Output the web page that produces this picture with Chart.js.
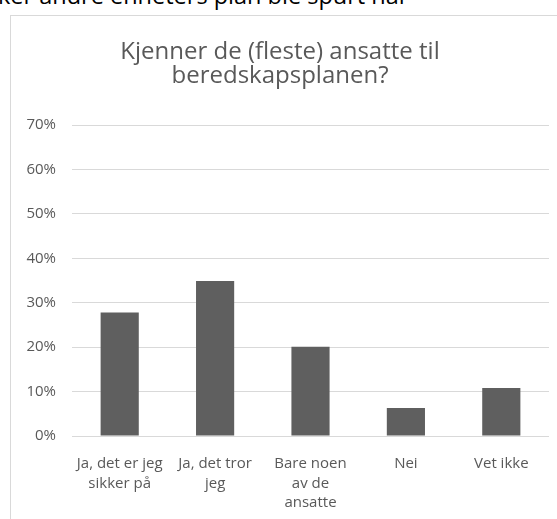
<!DOCTYPE html>
<html>
<head>
<meta charset="utf-8">
<script src="https://cdn.jsdelivr.net/npm/chart.js@4.4.1/dist/chart.umd.min.js"></script>
<style>
  html, body { margin: 0; padding: 0; background: white; overflow: hidden; }
  body { width: 557px; height: 519px; position: relative; font-family: 'Open Sans', sans-serif; }
  #above { position: absolute; left: -2px; top: -16px; font-size: 23.5px; line-height: 23.5px; color: #000; white-space: nowrap; }
  #box { position: absolute; left: 10px; top: 15px; width: 566px; height: 520px;
         border-left: 1px solid #d9d9d9; border-top: 1px solid #d9d9d9; }
  #wrap { position: absolute; left: 0; top: 0; width: 566px; height: 504px; }
</style>
</head>
<body>
<div id="above">ker andre enheters plan ble spurt når</div>
<div id="box">
  <div id="wrap"><canvas id="chart"></canvas></div>
</div>
<script>
const categories = [
  ['Ja, det er jeg', 'sikker på'],
  ['Ja, det tror', 'jeg'],
  ['Bare noen', 'av de', 'ansatte'],
  'Nei',
  'Vet ikke'
]
const shares = [27.8, 34.9, 20.1, 6.3, 10.8]
const yTicks = [0, 10, 20, 30, 40, 50, 60, 70]

const grey = '#595959'
Chart.defaults.font.family = "'Open Sans', sans-serif"
Chart.defaults.color = grey

new Chart(document.getElementById('chart'), {
  type: 'bar',
  data: {
    labels: categories,
    datasets: [{
      data: shares,
      backgroundColor: '#5f5f5f',
      borderWidth: 0,
      barPercentage: 0.8,
      categoryPercentage: 0.5
    }]
  },
  options: {
    responsive: true,
    maintainAspectRatio: false,
    animation: false,
    layout: { padding: { left: 0, right: 28, top: 0, bottom: 0 } },
    plugins: {
      legend: { display: false },
      tooltip: { enabled: false },
      title: {
        display: true,
        text: ['Kjenner de (fleste) ansatte til', 'beredskapsplanen?'],
        color: grey,
        font: { size: 24, weight: 'normal', lineHeight: 1.0 },
        padding: { top: 24, bottom: 37 }
      }
    },
    scales: {
      y: {
        min: 0,
        max: 70,
        afterBuildTicks: s => { s.ticks = yTicks.map(v => ({ value: v })) },
        afterFit: s => { s.width = 61 },
        ticks: {
          callback: v => v + '%',
          padding: 16,
          font: { size: 15 },
          color: grey
        },
        grid: { color: '#d9d9d9', drawTicks: false },
        border: { display: false }
      },
      x: {
        afterFit: s => { s.height = 84 },
        ticks: {
          padding: 10,
          maxRotation: 0,
          autoSkip: false,
          font: { size: 15, lineHeight: 1.3 },
          color: grey
        },
        grid: { display: false },
        border: { display: false }
      }
    }
  }
})
</script>
</body>
</html>
